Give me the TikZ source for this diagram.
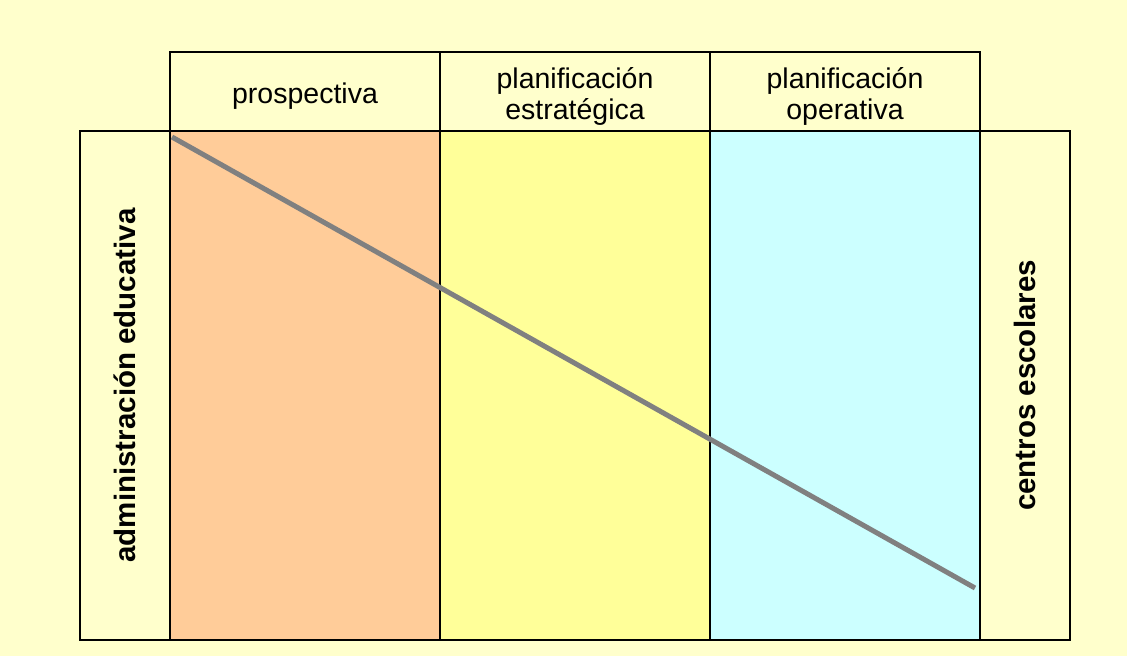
\documentclass[tikz,border=0pt]{standalone}
\usepackage{fontspec}
\setmainfont{Liberation Sans}
\usetikzlibrary{positioning}
\definecolor{fondo}{HTML}{FFFFCC}
\definecolor{naranja}{HTML}{FFCC99}
\definecolor{amarillo}{HTML}{FFFF99}
\definecolor{celeste}{HTML}{CCFFFF}
\definecolor{gris}{HTML}{808080}

\begin{document}
\begin{tikzpicture}[x=1pt,y=-1pt,
  caja/.style={draw,line width=1.5pt,inner sep=0pt,outer sep=0pt,minimum width=270pt,minimum height=509pt},
  cabecera/.style={caja,minimum height=79pt,fill=fondo},
  rotulo/.style={align=center,inner sep=0pt,font=\fontsize{28.5}{30.5}\selectfont},
  lateral/.style={caja,minimum width=90pt,fill=fondo,font=\bfseries\fontsize{29.5}{31}\selectfont},
  diagonal/.style={gris,line width=5pt}]
\fill[fondo] (0,0) rectangle (1127,656);
\node[caja,fill=naranja,anchor=north west] at (170,131) (pros) {};
\node[caja,fill=amarillo,right=0pt of pros] (estr) {};
\node[caja,fill=celeste,right=0pt of estr] (oper) {};
\node[lateral,left=0pt of pros] (admin) {\rotatebox{90}{administración educativa}};
\node[lateral,right=0pt of oper] (centros) {\rotatebox{90}{centros escolares}};
\node[cabecera,above=0pt of pros] (cpros) {};
\node[cabecera,above=0pt of estr] (cestr) {};
\node[cabecera,above=0pt of oper] (coper) {};
\node[rotulo] at ([yshift=-5pt]cpros.center) (tpros) {prospectiva};
\node[rotulo] at ([yshift=-5pt]cestr.center) (testr) {planificación\\estratégica};
\node[rotulo] at ([yshift=-5pt]coper.center) (toper) {planificación\\operativa};
\coordinate (ini) at (172,137);
\coordinate (fin) at (975,588);
\draw[diagonal] (ini) -- (fin);
\end{tikzpicture}
\end{document}
